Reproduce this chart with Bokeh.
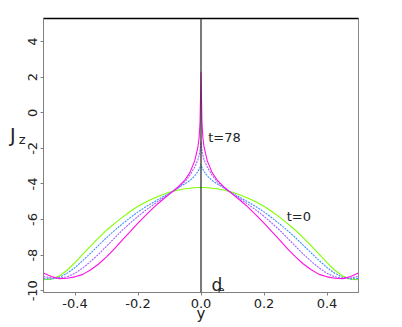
from bokeh.plotting import figure
from bokeh.models import Range1d, Span, Label, LinearAxis, FixedTicker
from bokeh.embed import file_html
from bokeh.resources import INLINE

ys = [-0.5, -0.475, -0.45, -0.425, -0.4, -0.375, -0.35, -0.325, -0.3, -0.275, -0.25, -0.225, -0.2, -0.175,
      -0.15, -0.125, -0.1, -0.075, -0.05, -0.035, -0.02, -0.01, -0.006, -0.003, 0.0,
      0.003, 0.006, 0.01, 0.02, 0.035, 0.05, 0.075, 0.1, 0.125, 0.15, 0.175, 0.2, 0.225, 0.25, 0.275,
      0.3, 0.325, 0.35, 0.375, 0.4, 0.425, 0.45, 0.475, 0.5]

jz_t0 = [-9.38, -9.35, -9.18, -8.85, -8.42, -7.95, -7.48, -7.03, -6.6, -6.23, -5.88, -5.55, -5.25, -5.01,
         -4.8, -4.62, -4.47, -4.35, -4.27, -4.24, -4.21, -4.2, -4.2, -4.2, -4.2,
         -4.2, -4.2, -4.2, -4.21, -4.24, -4.27, -4.35, -4.47, -4.62, -4.8, -5.01, -5.25, -5.55, -5.88, -6.23,
         -6.6, -7.03, -7.48, -7.95, -8.42, -8.85, -9.18, -9.35, -9.38]
jz_t1 = [-9.32, -9.34, -9.25, -9.02, -8.7, -8.3, -7.88, -7.45, -7.02, -6.62, -6.25, -5.9, -5.57, -5.28,
         -5.02, -4.77, -4.52, -4.25, -3.98, -3.8, -3.55, -3.3, -3.18, -3.08, -2.9,
         -3.08, -3.18, -3.3, -3.55, -3.8, -3.98, -4.25, -4.52, -4.77, -5.02, -5.28, -5.57, -5.9, -6.25, -6.62,
         -7.02, -7.45, -7.88, -8.3, -8.7, -9.02, -9.25, -9.34, -9.32]
jz_t2 = [-9.2, -9.28, -9.3, -9.22, -9.02, -8.72, -8.35, -7.95, -7.5, -7.05, -6.6, -6.2, -5.82, -5.47,
         -5.15, -4.85, -4.55, -4.25, -3.85, -3.5, -3.05, -2.65, -2.4, -2.1, -1.6,
         -2.1, -2.4, -2.65, -3.05, -3.5, -3.85, -4.25, -4.55, -4.85, -5.15, -5.47, -5.82, -6.2, -6.6, -7.05,
         -7.5, -7.95, -8.35, -8.72, -9.02, -9.22, -9.3, -9.28, -9.2]
jz_t78 = [-9.0, -9.2, -9.32, -9.3, -9.22, -9.08, -8.82, -8.5, -8.1, -7.65, -7.15, -6.68, -6.2, -5.75,
          -5.32, -4.93, -4.57, -4.2, -3.75, -3.35, -2.7, -1.95, -1.4, -0.5, 2.3,
          -0.5, -1.4, -1.95, -2.7, -3.35, -3.75, -4.2, -4.57, -4.93, -5.32, -5.75, -6.2, -6.68, -7.15, -7.65,
          -8.1, -8.5, -8.82, -9.08, -9.22, -9.3, -9.32, -9.2, -9.0]

series = [
    (jz_t0, "#7fff00", "solid"),
    (jz_t1, "#3f8fff", "2 1"),
    (jz_t2, "#9f5fff", "2 1"),
    (jz_t78, "#ff10e0", "solid"),
]

x_ticks = [-0.4, -0.2, 0.0, 0.2, 0.4]
x_tick_labels = ["-0.4", "-0.2", "0.0", "0.2", "0.4"]
y_ticks = [4, 2, 0, -2, -4, -6, -8, -10]
y_tick_labels = ["4", "2", "0", "-2", "-4", "-6", "-8", "-10"]

p = figure(width=400, height=325, output_backend="svg", toolbar_location=None,
           x_range=Range1d(-0.5, 0.5), y_range=Range1d(-10.1, 5.3),
           min_border_left=43, min_border_right=42, min_border_top=18, min_border_bottom=32)
p.background_fill_color = "white"
p.border_fill_color = "white"
p.xgrid.visible = False
p.ygrid.visible = False
p.outline_line_color = "#888888"

font = "DejaVu Sans"
for ax in (p.xaxis[0], p.yaxis[0]):
    ax.axis_line_color = "#808080"
    ax.major_tick_line_color = "#808080"
    ax.minor_tick_line_color = None
    ax.major_tick_out = 3
    ax.major_tick_in = 0
    ax.major_label_text_font = font
    ax.major_label_text_font_size = "13px"
    ax.major_label_text_color = "#222222"
    ax.major_label_standoff = 3
p.xaxis[0].ticker = FixedTicker(ticks=x_ticks)
p.yaxis[0].ticker = FixedTicker(ticks=y_ticks)
p.xaxis[0].major_label_overrides = dict(zip(x_ticks, x_tick_labels))
p.yaxis[0].major_label_overrides = dict(zip(y_ticks, y_tick_labels))
p.yaxis[0].major_label_orientation = "vertical"

p.xaxis[0].axis_label = "y"
p.xaxis[0].axis_label_text_font = font
p.xaxis[0].axis_label_text_font_size = "15px"
p.xaxis[0].axis_label_text_font_style = "normal"
p.xaxis[0].axis_label_text_color = "#222222"
p.xaxis[0].axis_label_standoff = -6

def label_axis(text, size, line_height, standoff):
    ax = LinearAxis(ticker=FixedTicker(ticks=[]), axis_line_color=None, major_tick_line_color=None,
                    minor_tick_line_color=None, major_label_text_font_size="0px",
                    axis_label=text, axis_label_orientation="horizontal", axis_label_standoff=standoff,
                    axis_label_text_font=font, axis_label_text_font_size=size,
                    axis_label_text_line_height=line_height,
                    axis_label_text_font_style="normal", axis_label_text_color="#222222")
    p.add_layout(ax, "left")

label_axis("z\n ", "13px", 2.2, 0)
label_axis("J\n ", "19px", 1.9, 0)

top = LinearAxis(ticker=FixedTicker(ticks=[]), axis_line_color="black", axis_line_width=1.5,
                 major_label_text_font_size="0px", major_tick_line_color=None, minor_tick_line_color=None)
p.add_layout(top, "above")

for vals, col, dash in series:
    p.line(ys, vals, line_color=col, line_width=1.1, line_dash=dash)

p.add_layout(Span(location=0, dimension="height", line_color="#333333", line_width=1.3))

def lab(x, y, t, size, baseline="alphabetic", dy=0):
    p.add_layout(Label(x=x, y=y, text=t, text_font=font, text_font_size=size,
                       text_color="#222222", text_baseline=baseline, y_offset=dy))

lab(0.023, -1.38, "t=78", "13px")
lab(0.272, -5.85, "t=0", "13px")
lab(0.033, -10.09, "d", "17px", "bottom", -3)
lab(0.053, -10.09, "e", "11px", "bottom", -2)

open("out.html", "w").write(file_html(p, INLINE))
